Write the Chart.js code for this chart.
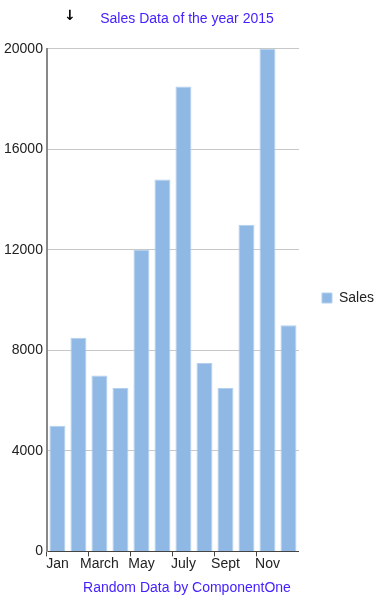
<!DOCTYPE html>
<html>
<head>
<meta charset="utf-8">
<script src="https://cdn.jsdelivr.net/npm/chart.js@4/dist/chart.umd.min.js"></script>
<style>
  html, body { margin: 0; padding: 0; background: #fff; }
  #wrap { position: relative; width: 374px; height: 596px; }
  #arrow { position: absolute; left: 64px; top: 7px; font: bold 14px "DejaVu Sans", sans-serif; color: #000; }
</style>
</head>
<body>
<div id="wrap">
  <canvas id="salesChart" width="374" height="596"></canvas>
  <div id="arrow">↓</div>
</div>
<script>
const months = ['Jan', 'Feb', 'March', 'April', 'May', 'June', 'July', 'Aug', 'Sept', 'Oct', 'Nov', 'Dec'];
const sales = [5000, 8500, 7000, 6500, 12000, 14800, 18500, 7500, 6500, 13000, 20000, 9000];
const yTicks = [0, 4000, 8000, 12000, 16000, 20000];

const font = { family: '"Liberation Sans", Arial, sans-serif', size: 14, weight: 'normal' };

// the negative right padding pushes the legend out; keep titles centred on the canvas
const recenterTitles = {
  id: 'recenterTitles',
  afterLayout(chart) {
    chart.boxes.forEach(b => {
      if (b.options && b.options.text !== undefined && b.fullSize) {
        b.left = 0;
        b.right = chart.width;
      }
    });
  }
};

const ctx = document.getElementById('salesChart').getContext('2d');
new Chart(ctx, {
  type: 'bar',
  data: {
    labels: months,
    datasets: [{
      label: 'Sales',
      data: sales,
      backgroundColor: '#8fb9e4',
      borderColor: '#b3cfee',
      borderWidth: 1,
      barPercentage: 0.76,
      categoryPercentage: 1.0
    }]
  },
  options: {
    responsive: false,
    animation: false,
    layout: { padding: { left: 0, right: -10, top: 0, bottom: 0 } },
    scales: {
      x: {
        grid: {
          drawOnChartArea: false,
          drawTicks: true,
          tickLength: 5,
          tickColor: c => c.index % 2 === 0 ? '#444' : 'rgba(0,0,0,0)'
        },
        border: { color: '#444', width: 1 },
        ticks: {
          color: '#222',
          font: font,
          autoSkip: false,
          maxRotation: 0,
          padding: -1,
          callback: (v, i) => i % 2 === 0 ? months[i] : ''
        }
      },
      y: {
        min: 0,
        max: 20000,
        afterBuildTicks: axis => { axis.ticks = yTicks.map(v => ({ value: v })); },
        grid: { color: '#c8c8c8', drawTicks: false },
        border: { color: '#888', width: 2 },
        ticks: { color: '#222', font: font, padding: 4, callback: v => String(v) }
      }
    },
    plugins: {
      title: {
        display: true,
        text: 'Sales Data of the year 2015',
        color: '#4422ff',
        font: font,
        padding: { top: 11, bottom: 21 }
      },
      subtitle: {
        display: true,
        position: 'bottom',
        text: 'Random Data by ComponentOne',
        color: '#4422ff',
        font: font,
        padding: { top: 9, bottom: -1 }
      },
      legend: {
        position: 'right',
        labels: { boxWidth: 10, boxHeight: 10, color: '#222', font: font, padding: 23 }
      },
      tooltip: { enabled: false }
    }
  },
  plugins: [recenterTitles]
});
</script>
</body>
</html>
